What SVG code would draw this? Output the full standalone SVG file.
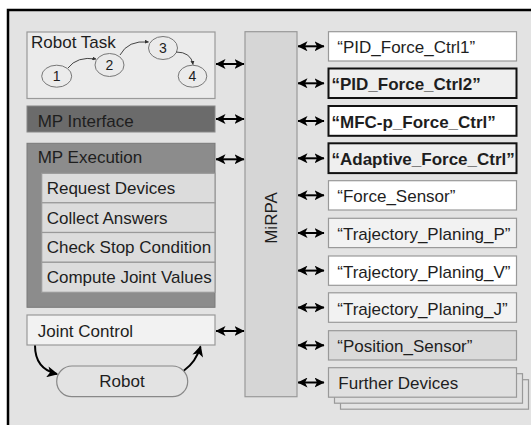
<svg xmlns="http://www.w3.org/2000/svg" width="531" height="425" viewBox="0 0 531 425">
  <style>
    text { font-family: "Liberation Sans", Arial, sans-serif; font-size: 17px; fill: #1e1e1e; }
    .b { font-weight: bold; }
    .box { stroke: #999; stroke-width: 1.2; }
    .bold { stroke: #111; stroke-width: 2; }
    .link { stroke: #000; stroke-width: 2; fill: none; marker-start: url(#dbl); marker-end: url(#dbl); }
    .curve { stroke: #000; stroke-width: 2; fill: none; marker-end: url(#head); }
    .thin { stroke: #444; stroke-width: 1; fill: none; marker-end: url(#tiny); }
    .node { fill: #ebebeb; stroke: #777; stroke-width: 1; }
    .num { font-size: 14px; text-anchor: middle; }
  </style>
  <defs>
    <marker id="dbl" viewBox="0 0 10 10" refX="9.5" refY="5" markerUnits="userSpaceOnUse" markerWidth="10" markerHeight="10" orient="auto-start-reverse">
      <path d="M0,0 L10,5 L0,10 L2.5,5 z" fill="#000"/>
    </marker>
    <marker id="head" viewBox="0 0 10 10" refX="9" refY="5" markerUnits="userSpaceOnUse" markerWidth="12" markerHeight="11" orient="auto">
      <path d="M0,0 L10,5 L0,10 L2.5,5 z" fill="#000"/>
    </marker>
    <marker id="tiny" viewBox="0 0 10 10" refX="9" refY="5" markerUnits="userSpaceOnUse" markerWidth="4" markerHeight="4" orient="auto">
      <path d="M0,0 L10,5 L0,10 z" fill="#333"/>
    </marker>
  </defs>

  <!-- frame -->
  <rect x="0" y="0" width="531" height="425" fill="#fff"/>
  <rect x="8" y="10" width="540" height="430" fill="#e3e3e3" stroke="#000" stroke-width="2.5"/>

  <!-- left side -->
  <g id="robot-task">
    <rect class="box" x="27" y="32" width="188" height="66.5" fill="#ebebeb"/>
    <text x="31" y="48">Robot Task</text>
    <ellipse class="node" cx="56.7" cy="76.2" rx="15" ry="11"/>
    <ellipse class="node" cx="109.5" cy="65" rx="14.5" ry="11.5"/>
    <ellipse class="node" cx="163" cy="48" rx="14.5" ry="11.5"/>
    <ellipse class="node" cx="192.5" cy="76.2" rx="14.3" ry="11"/>
    <text class="num" x="56.7" y="81">1</text>
    <text class="num" x="109.5" y="70">2</text>
    <text class="num" x="163" y="53">3</text>
    <text class="num" x="192.5" y="81">4</text>
    <path class="thin" d="M68 68 Q77 56 96 59"/>
    <path class="thin" d="M120 55 Q128 40 148.5 42"/>
    <path class="thin" d="M176 52 Q191 52 193 64.5"/>
  </g>

  <g id="mp-interface">
    <rect x="27" y="106" width="188" height="26" fill="#6b6b6b" stroke="#888" stroke-width="1"/>
    <text x="37.7" y="126.5">MP Interface</text>
  </g>

  <g id="mp-execution">
    <rect x="27" y="143.3" width="188" height="164" fill="#8c8c8c" stroke="#7a7a7a" stroke-width="1"/>
    <text x="37.7" y="163.3">MP Execution</text>
    <rect class="box" x="41.7" y="173.3" width="173.3" height="29.5" fill="#dcdcdc"/>
    <rect class="box" x="41.7" y="202.8" width="173.3" height="29.7" fill="#dcdcdc"/>
    <rect class="box" x="41.7" y="232.5" width="173.3" height="29.8" fill="#dcdcdc"/>
    <rect class="box" x="41.7" y="262.3" width="173.3" height="30" fill="#dcdcdc"/>
    <text x="46.7" y="194">Request Devices</text>
    <text x="46.7" y="223.5">Collect Answers</text>
    <text x="46.7" y="253.3">Check Stop Condition</text>
    <text x="46.7" y="283.2">Compute Joint Values</text>
  </g>

  <g id="joint-control">
    <rect class="box" x="27" y="315" width="188" height="30" fill="#f2f2f2"/>
    <text x="37.7" y="337.3">Joint Control</text>
  </g>

  <g id="robot">
    <rect x="56.7" y="366" width="131" height="30.7" rx="15.3" ry="15.3" fill="#e3e3e3" stroke="#888" stroke-width="1.2"/>
    <text x="122" y="386.7" text-anchor="middle">Robot</text>
  </g>

  <!-- middleware column -->
  <g id="mirpa">
    <rect class="box" x="245" y="31.7" width="52" height="365" fill="#d6d6d6"/>
    <text x="0" y="0" transform="translate(276.5 218) rotate(-90)" text-anchor="middle" font-size="16">MiRPA</text>
  </g>

  <!-- devices -->
  <g id="pid-force-ctrl1">
    <rect class="box" x="328.5" y="31.7" width="188" height="29.3" fill="#fff"/>
    <text x="337.3" y="53.3">“PID_Force_Ctrl1”</text>
  </g>
  <g id="pid-force-ctrl2">
    <rect class="bold" x="328.5" y="68.5" width="188" height="29.5" fill="#efefef"/>
    <text class="b" x="331.5" y="90.2">“PID_Force_Ctrl2”</text>
  </g>
  <g id="mfc-p-force-ctrl">
    <rect class="bold" x="328.5" y="106" width="188" height="29.8" fill="#fff"/>
    <text class="b" x="331.5" y="127.7">“MFC-p_Force_Ctrl”</text>
  </g>
  <g id="adaptive-force-ctrl">
    <rect class="bold" x="328.5" y="143.3" width="188" height="29.8" fill="#efefef"/>
    <text class="b" x="331.5" y="165">“Adaptive_Force_Ctrl”</text>
  </g>
  <g id="force-sensor">
    <rect class="box" x="328.5" y="180.7" width="188" height="29.3" fill="#fff"/>
    <text x="337.3" y="202.3">“Force_Sensor”</text>
  </g>
  <g id="trajectory-planing-p">
    <rect class="box" x="328.5" y="218.3" width="188" height="29.3" fill="#f2f2f2"/>
    <text x="337.3" y="240">“Trajectory_Planing_P”</text>
  </g>
  <g id="trajectory-planing-v">
    <rect class="box" x="328.5" y="256" width="188" height="29.3" fill="#fff"/>
    <text x="337.3" y="277.6">“Trajectory_Planing_V”</text>
  </g>
  <g id="trajectory-planing-j">
    <rect class="box" x="328.5" y="292.8" width="188" height="29.5" fill="#f2f2f2"/>
    <text x="337.3" y="314.5">“Trajectory_Planing_J”</text>
  </g>
  <g id="position-sensor">
    <rect class="box" x="328.5" y="330.7" width="188" height="29.3" fill="#dadada"/>
    <text x="337.3" y="352.3">“Position_Sensor”</text>
  </g>
  <g id="further-devices">
    <rect class="box" x="340.5" y="379.7" width="188" height="29.5" fill="#e3e3e3"/>
    <rect class="box" x="334.5" y="373.7" width="188" height="29.5" fill="#e0e0e0"/>
    <rect class="box" x="328.5" y="367.7" width="188" height="29.5" fill="#e0e0e0"/>
    <text x="338.3" y="389.3">Further Devices</text>
  </g>

  <!-- connectors -->
  <g id="connectors">
    <line class="link" x1="216" y1="64" x2="244" y2="64"/>
    <line class="link" x1="216" y1="119" x2="244" y2="119"/>
    <line class="link" x1="216" y1="159.3" x2="244" y2="159.3"/>
    <line class="link" x1="216" y1="331" x2="244" y2="331"/>

    <line class="link" x1="298" y1="46.3" x2="324" y2="46.3"/>
    <line class="link" x1="298" y1="83.3" x2="324" y2="83.3"/>
    <line class="link" x1="298" y1="121" x2="324" y2="121"/>
    <line class="link" x1="298" y1="158.3" x2="324" y2="158.3"/>
    <line class="link" x1="298" y1="195.3" x2="324" y2="195.3"/>
    <line class="link" x1="298" y1="233" x2="324" y2="233"/>
    <line class="link" x1="298" y1="270.6" x2="324" y2="270.6"/>
    <line class="link" x1="298" y1="307.5" x2="324" y2="307.5"/>
    <line class="link" x1="298" y1="345.3" x2="324" y2="345.3"/>
    <line class="link" x1="298" y1="382.5" x2="324" y2="382.5"/>

    <path class="curve" d="M35 345.5 Q35 369 57 374"/>
    <path class="curve" d="M184 370.5 Q196 362 200.5 346.5"/>
  </g>
</svg>
